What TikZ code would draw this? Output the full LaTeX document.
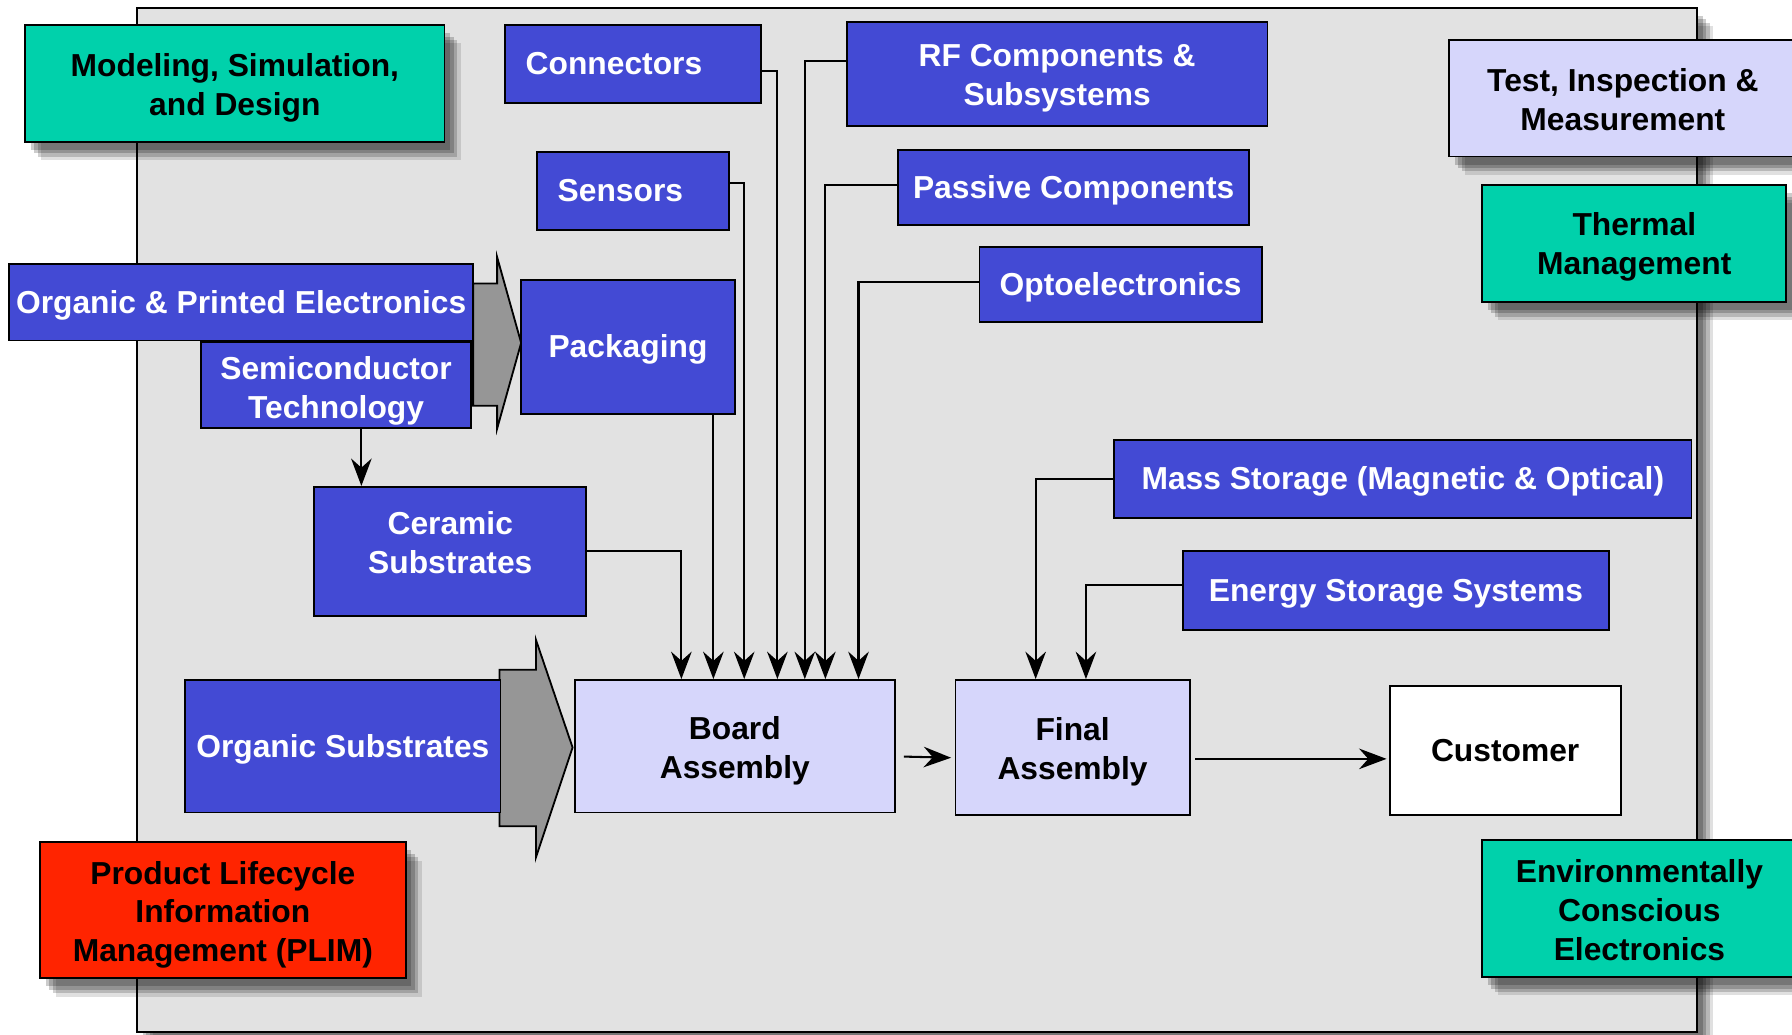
\documentclass[tikz,border=0pt]{standalone}
\usepackage{fontspec}
\setmainfont{Liberation Sans}
\usetikzlibrary{arrows.meta,shadows}
\definecolor{bggray}{HTML}{E2E2E2}
\definecolor{myblue}{HTML}{434AD4}
\definecolor{myteal}{HTML}{00D1AB}
\definecolor{mylav}{HTML}{D6D6FB}
\definecolor{myred}{HTML}{FF2400}
\definecolor{arrgray}{HTML}{969696}
\newcommand{\mytopstrut}[1][30pt]{\rule{0pt}{#1}}
\tikzset{
  base/.style={draw=black, line width=1.6pt, font=\bfseries\fontsize{27.8}{34}\selectfont, align=center, inner sep=0pt,
    execute at begin node={\rule{0pt}{27pt}}, execute at end node={\rule[-8pt]{0pt}{0pt}}},
  bluebox/.style={base, fill=myblue, text=white},
  tealbox/.style={base, fill=myteal, text=black},
  lavbox/.style={base, fill=mylav, text=black},
  redbox/.style={base, fill=myred, text=black},
  whitebox/.style={base, fill=white, text=black},
  shad/.style={
    drop shadow={shadow xshift=5pt, shadow yshift=-7pt, fill=black, opacity=0.20},
    drop shadow={shadow xshift=8pt, shadow yshift=-10pt, fill=black, opacity=0.20},
    drop shadow={shadow xshift=11pt, shadow yshift=-13pt, fill=black, opacity=0.18},
    drop shadow={shadow xshift=14pt, shadow yshift=-16pt, fill=black, opacity=0.12}},
  arr/.style={draw=black, line width=1.8pt, -{Stealth[length=24pt,width=18pt,inset=8pt]}},
  bigarrow/.style={fill=arrgray, draw=black, line width=1.6pt, line join=miter},
  wh/.style 2 args={minimum width=#1pt, minimum height=#2pt}
}
\begin{document}
\begin{tikzpicture}[x=1pt,y=-1pt]
\useasboundingbox (0,0) rectangle (1568,905);
% background panel
\node[draw=black, line width=1.6pt, fill=bggray, shad, wh={1365}{896}, inner sep=0pt] (panel) at (802.5,455) {};
% big gray arrows
\draw[bigarrow] (414,248) -- (435,248) -- (435,225) -- (456,300) -- (435,375) -- (435,355) -- (414,355) -- cycle;
\draw[bigarrow] (437,586) -- (469,586) -- (469,560) -- (501,654) -- (469,750) -- (469,723) -- (437,723) -- cycle;
% nodes
\node[tealbox, shad, wh={367}{102}] (model) at (205.5,73) {\mytopstrut Modeling, Simulation,\\and Design};
\node[bluebox, wh={224}{68}, text width=188pt, inner xsep=18pt, align=left] (conn) at (554,56) {Connectors};
\node[bluebox, wh={368}{91}] (rf) at (925,64.5) {\mytopstrut RF Components \&\\Subsystems};
\node[lavbox, shad, wh={304}{102}] (test) at (1420,86) {\mytopstrut Test, Inspection \&\\Measurement};
\node[bluebox, wh={168}{68}, text width=132pt, inner xsep=18pt, align=left] (sens) at (554,167) {Sensors};
\node[bluebox, wh={307}{66}] (pass) at (939.5,164) {Passive Components};
\node[tealbox, shad, wh={266}{102}] (therm) at (1430,213) {\mytopstrut[28pt]Thermal\\Management};
\node[bluebox, wh={247}{66}] (opto) at (980.5,249) {Optoelectronics};
\node[bluebox, wh={406}{67}] (ope) at (211,264.5) {Organic \& Printed Electronics};
\node[bluebox, wh={236}{75}] (semi) at (294,337) {\mytopstrut[32pt]Semiconductor\\Technology};
\node[bluebox, wh={187}{117}] (pack) at (549.5,303.5) {Packaging};
\node[bluebox, wh={238}{113}] (cer) at (394,482.5) {Ceramic\\Substrates\rule[-16pt]{0pt}{0pt}};
\node[bluebox, wh={505}{68}] (mass) at (1227.5,419) {Mass Storage (Magnetic \& Optical)};
\node[bluebox, wh={373}{69}] (energy) at (1221.5,516.5) {Energy Storage Systems};
\node[bluebox, wh={276}{116}] (orgsub) at (300,653) {Organic Substrates};
\node[lavbox, wh={280}{116}] (board) at (643,653) {\mytopstrut Board\\Assembly};
\node[lavbox, wh={205}{118}] (final) at (938.5,654) {\mytopstrut Final\\Assembly};
\node[whitebox, wh={202}{113}] (cust) at (1317,656.5) {Customer};
\node[redbox, shad, wh={320}{119}] (plim) at (195,796.5) {\mytopstrut Product Lifecycle\\Information\\Management (PLIM)};
\node[tealbox, shad, wh={275}{120}] (env) at (1434.5,795) {\mytopstrut Environmentally\\Conscious\\Electronics};
% connectors into board assembly
\draw[arr] (cer.east) -| ([xshift=94pt]board.north west);
\draw[arr] ([xshift=122pt]board.north west |- pack.south) -- ([xshift=122pt]board.north west);
\draw[arr] ([yshift=7pt]sens.east) -| ([xshift=149pt]board.north west);
\draw[arr] ([yshift=-6pt]conn.east) -| ([xshift=178pt]board.north west);
\draw[arr] ([yshift=11pt]rf.west) -| ([xshift=202pt]board.north west);
\draw[arr] ([yshift=2pt]pass.west) -| ([xshift=220pt]board.north west);
\draw[arr] ([yshift=2.5pt]opto.west) -| ([xshift=249pt]board.north west);
% into final assembly
\draw[arr] (mass.west) -| ([xshift=71pt]final.north west);
\draw[arr] ([yshift=4.5pt]energy.west) -| ([xshift=115pt]final.north west);
% semiconductor to ceramic
\draw[arr] ([xshift=141pt]semi.south west) -- ([xshift=42pt]cer.north west);
% flow
\draw[arr] ([xshift=7pt,yshift=-9pt]board.east) -- ([xshift=-3pt,yshift=-9pt]final.west);
\draw[arr, shorten >=2pt] ([xshift=4pt,yshift=-10pt]final.east) -- ([yshift=-10pt]final.east -| cust.west);
\end{tikzpicture}
\end{document}
